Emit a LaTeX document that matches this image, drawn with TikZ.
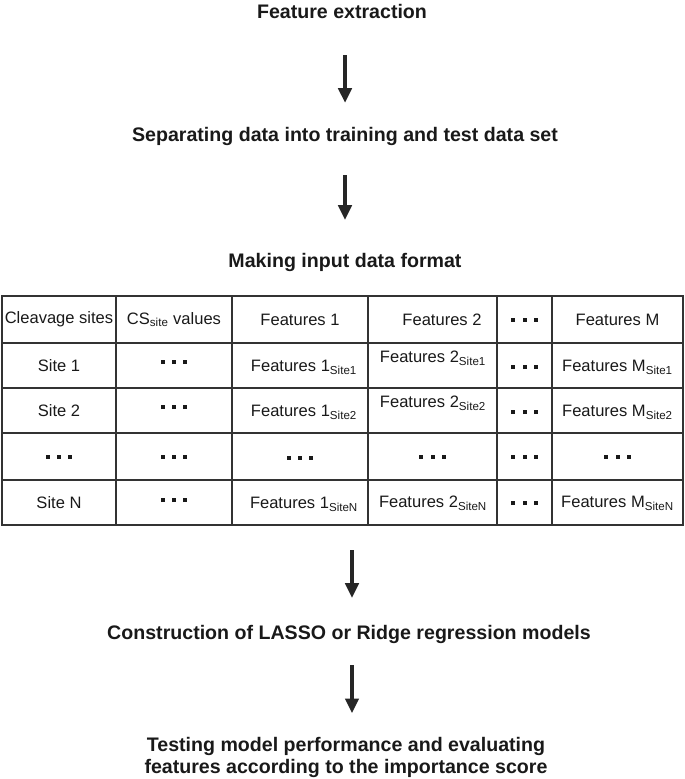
\documentclass[tikz,border=0pt]{standalone}
\usepackage{fontspec}
\setmainfont{Liberation Sans}
\usetikzlibrary{arrows.meta, positioning}

\newcommand{\sqdots}{\rule{3pt}{3pt}\hspace{5.5pt}\rule{3pt}{3pt}\hspace{5.5pt}\rule{3pt}{3pt}}
\newcommand{\low}[1]{\textsubscript{#1}}

\begin{document}
\begin{tikzpicture}[
    x=0.75pt, y=-0.75pt,
    stage/.style={font=\fontsize{14.7}{16.5}\selectfont\bfseries, align=center, inner sep=0pt, text=black!90},
    cell/.style={font=\fontsize{12.4}{15}\selectfont, inner sep=0pt, text=black!90},
    grid/.style={draw=black!80, line width=1.1pt},
    arr/.style={-{Triangle[length=11pt, width=10pt]}, line width=2.5pt, black!85}
]
\useasboundingbox (0,0) rectangle (685,779);

% steps
\node[stage, anchor=base] (feat) at (342,18) {Feature extraction};
\node[stage, anchor=base] (split) at (345,141) {Separating data into training and test data set};
\node[stage, anchor=base] (fmt) at (345,267) {Making input data format};
\node[stage, anchor=base] (model) at (349,639) {Construction of LASSO or Ridge regression models};
\node[stage, anchor=north] (test) at (346,736.7) {Testing model performance and evaluating\\features according to the importance score};

% table grid
\draw[grid] (2,296) rectangle (683,525);
\foreach \x in {116,232,368,497,552}
    \draw[grid] (\x,296) -- (\x,525);
\foreach \y in {343,388,433,480}
    \draw[grid] (2,\y) -- (683,\y);
\coordinate (tab) at (352,525);

% header row
\node[cell] (h1) at (59,319.5) {Cleavage sites};
\node[cell] (h2) at (174,319.5) {CS\low{site} values};
\node[cell] (h3) at (300,319.5) {Features 1};
\node[cell] (h4) at (442,319.5) {Features 2};
\node[cell] (h5) at (524.5,319.5) {\sqdots};
\node[cell] (h6) at (617.5,319.5) {Features M};

% site rows
\node[cell] (s1a) at (59,365.5) {Site 1};
\node[cell] (s1b) at (174,362) {\sqdots};
\node[cell] (s1c) at (304,367) {Features 1\low{Site1}};
\node[cell] (s1d) at (433,358) {Features 2\low{Site1}};
\node[cell] (s1e) at (524.5,367) {\sqdots};
\node[cell] (s1f) at (617.5,367) {Features M\low{Site1}};

\node[cell] (s2a) at (59,410.5) {Site 2};
\node[cell] (s2b) at (174,407) {\sqdots};
\node[cell] (s2c) at (304,412) {Features 1\low{Site2}};
\node[cell] (s2d) at (433,403) {Features 2\low{Site2}};
\node[cell] (s2e) at (524.5,412) {\sqdots};
\node[cell] (s2f) at (617.5,412) {Features M\low{Site2}};

\node[cell] (sxa) at (59,456.5) {\sqdots};
\node[cell] (sxb) at (174,456.5) {\sqdots};
\node[cell] (sxc) at (300,457.5) {\sqdots};
\node[cell] (sxd) at (432.5,456.5) {\sqdots};
\node[cell] (sxe) at (524.5,456.5) {\sqdots};
\node[cell] (sxf) at (617.5,456.5) {\sqdots};

\node[cell] (sna) at (59,502.5) {Site N};
\node[cell] (snb) at (174,500) {\sqdots};
\node[cell] (snc) at (304,504) {Features 1\low{SiteN}};
\node[cell] (snd) at (433,503) {Features 2\low{SiteN}};
\node[cell] (sne) at (524.5,503) {\sqdots};
\node[cell] (snf) at (617.5,503) {Features M\low{SiteN}};

% arrows
\draw[arr, shorten <=27.5pt, shorten >=17.8pt] (feat.south -| split.north) -- (split.north);
\draw[arr, shorten <=22.5pt, shorten >=24.5pt] (split.south) -- (fmt.north);
\draw[arr, shorten <=18.8pt, shorten >=20pt] (tab) -- (tab |- model.north);
\draw[arr, shorten <=16.5pt, shorten >=17.6pt] (tab |- model.south) -- (tab |- test.north);

\end{tikzpicture}
\end{document}
